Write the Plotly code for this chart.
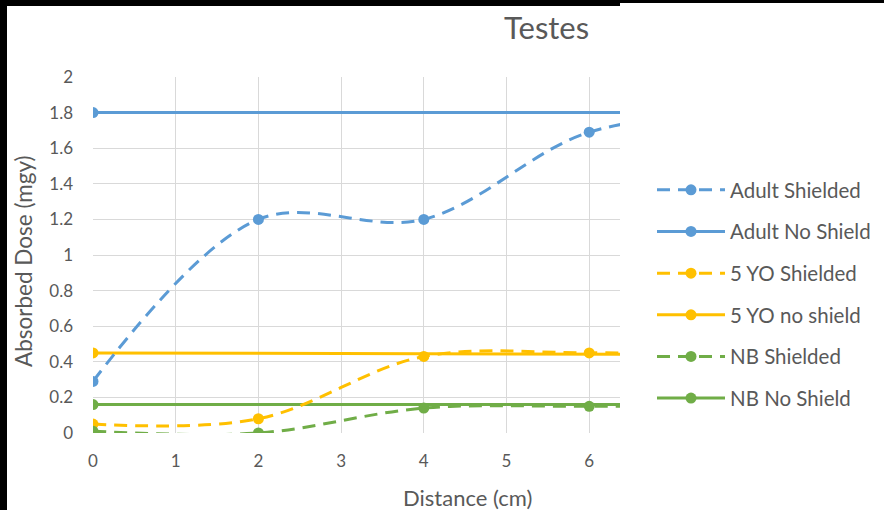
import plotly.graph_objects as go

# ---- data ----
distance = [0, 2, 4, 6, 8]
adult_shielded = [0.29, 1.20, 1.20, 1.69, 1.80]
five_yo_shielded = [0.05, 0.08, 0.43, 0.45, 0.44]
nb_shielded = [0.01, 0.00, 0.14, 0.15, 0.15]

noshield_x = [0, 8]
adult_no_shield = [1.80, 1.80]
five_yo_no_shield = [0.45, 0.44]
nb_no_shield = [0.16, 0.16]

x_ticks = [0, 1, 2, 3, 4, 5, 6]
y_ticks = [0, 0.2, 0.4, 0.6, 0.8, 1, 1.2, 1.4, 1.6, 1.8, 2]
y_tick_text = ["0", "0.2", "0.4", "0.6", "0.8", "1", "1.2", "1.4", "1.6", "1.8", "2"]

BLUE = "#5B9BD5"
GOLD = "#FFC000"
GREEN = "#70AD47"
TEXT = "#595959"
FONT = "Lato"
DASH = "13px,8px"

series = [
    ("Adult Shielded", distance, adult_shielded, BLUE, DASH),
    ("Adult No Shield", noshield_x, adult_no_shield, BLUE, "solid"),
    ("5 YO Shielded", distance, five_yo_shielded, GOLD, DASH),
    ("5 YO no shield", noshield_x, five_yo_no_shield, GOLD, "solid"),
    ("NB Shielded", distance, nb_shielded, GREEN, DASH),
    ("NB No Shield", noshield_x, nb_no_shield, GREEN, "solid"),
]

fig = go.Figure()
# draw order: solid lines first so shielded dashes sit on top
order = [1, 3, 5, 0, 2, 4]
for i in order:
    name, xs, ys, col, dash = series[i]
    fig.add_trace(go.Scatter(
        x=xs, y=ys, name=name, mode="lines+markers",
        line=dict(color=col, width=3, dash=dash, shape="spline", smoothing=1),
        marker=dict(color=col, size=11, symbol="circle"),
        legendgroup=name, legendrank=i + 1,
        cliponaxis=True,
    ))

W, H = 884, 510
L, R, T, B = 93, 620, 77, 433


def px(xp):
    return (xp - L) / (R - L)


def py(yp):
    return (B - yp) / (B - T)


fig.update_layout(
    width=W, height=H,
    margin=dict(l=L, r=W - R, t=T, b=H - B, pad=0, autoexpand=False),
    paper_bgcolor="white", plot_bgcolor="white",
    font=dict(family=FONT, color=TEXT, size=16),
    showlegend=True,
    legend=dict(
        x=px(652), y=py(170), xanchor="left", yanchor="top",
        font=dict(family=FONT, size=20.5, color=TEXT),
        itemwidth=68, tracegroupgap=12, bgcolor="rgba(0,0,0,0)",
        traceorder="grouped",
    ),
    xaxis=dict(
        range=[0, (R - L) / 82.7], tickvals=x_ticks, ticktext=[str(v) for v in x_ticks],
        showgrid=True, gridcolor="#D9D9D9", gridwidth=1,
        zeroline=False, showline=False, ticks="", ticklabelstandoff=16,
        tickfont=dict(family=FONT, size=17, color=TEXT),
    ),
    yaxis=dict(
        range=[0, 2], tickvals=y_ticks, ticktext=y_tick_text,
        showgrid=True, gridcolor="#D9D9D9", gridwidth=1,
        zeroline=False, showline=False, ticks="", ticklabelstandoff=19,
        tickfont=dict(family=FONT, size=17, color=TEXT),
    ),
    annotations=[
        dict(text="Testes", x=px(546), y=py(27), xref="paper", yref="paper",
             showarrow=False, xanchor="center", yanchor="middle",
             font=dict(family=FONT, size=31, color=TEXT)),
        dict(text="Distance (cm)", x=px(467), y=py(497), xref="paper", yref="paper",
             showarrow=False, xanchor="center", yanchor="middle",
             font=dict(family=FONT, size=22, color=TEXT)),
        dict(text="Absorbed Dose (mgy)", x=px(23), y=py(261), xref="paper", yref="paper",
             showarrow=False, xanchor="center", yanchor="middle", textangle=-90,
             font=dict(family=FONT, size=22.5, color=TEXT)),
    ],
    shapes=[
        dict(type="rect", xref="paper", yref="paper", x0=px(0), x1=px(7), y0=py(510), y1=py(0),
             fillcolor="black", line=dict(width=0), layer="above"),
        dict(type="rect", xref="paper", yref="paper", x0=px(0), x1=px(620), y0=py(6), y1=py(0),
             fillcolor="black", line=dict(width=0), layer="above"),
        dict(type="rect", xref="paper", yref="paper", x0=px(620), x1=px(884), y0=py(3), y1=py(0),
             fillcolor="black", line=dict(width=0), layer="above"),
    ],
)

post = (
    "document.body.style.margin='0';"
    "document.body.style.overflow='hidden';"
    "var s=document.createElement('div');"
    "s.style.cssText='position:fixed;left:0;top:0;width:7px;height:510px;background:#000;z-index:9999;';"
    "document.body.appendChild(s);"
)

fig.write_html("out.html", config={"displayModeBar": False}, post_script=post)
